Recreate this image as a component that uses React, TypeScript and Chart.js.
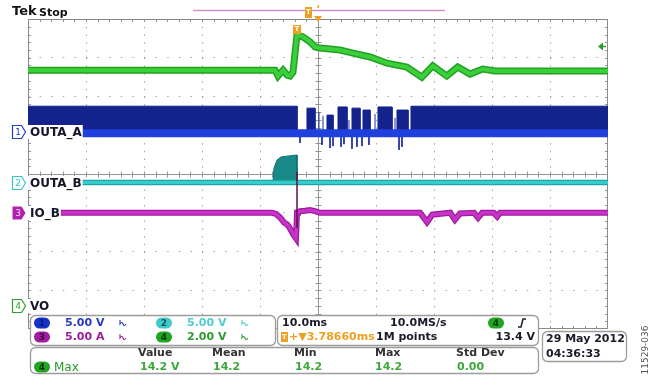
import React, { useEffect, useRef } from 'react';
import { Chart, registerables } from 'chart.js';

Chart.register(...registerables);

// Horizontal axis: time in ms (10.0 ms/div). Vertical axis: screen divisions.
const timeTicks = [-50, -40, -30, -20, -10, 0, 10, 20, 30, 40, 50];
const divTicks = [-4, -3, -2, -1, 0, 1, 2, 3, 4];

// CH4 VO (2.00 V/div)
const voTime = [-50, -7.41, -6.9, -6.03, -5.3, -4.83, -4.31, -3.62, -2.59, -1.38, -0.52, 0.34, 3.79, 6.03, 8.97, 11.9, 15.3, 17.9, 19.8, 22.2, 24.1, 26.2, 28.4, 30.5, 50];
const voDiv = [2.68, 2.68, 2.53, 2.68, 2.55, 2.53, 2.63, 3.59, 3.54, 3.41, 3.28, 3.25, 3.2, 3.12, 3.02, 2.86, 2.76, 2.5, 2.79, 2.53, 2.76, 2.58, 2.71, 2.66, 2.66];

// CH3 IO_B (5.00 A/div)
const ioTime = [-50, -7.93, -7.24, -6.55, -5.86, -5.34, -5.0, -4.66, -4.31, -3.97, -3.79, -3.62, -3.45, -3.1, -2.24, -1.38, -0.52, 0.34, 17.6, 18.8, 19.7, 22.8, 23.6, 24.5, 26.9, 27.6, 28.3, 30.3, 30.9, 31.4, 50];
const ioDiv = [-1.0, -1.0, -1.03, -1.12, -1.25, -1.3, -1.36, -1.45, -1.55, -1.62, -1.66, -1.0, -0.98, -0.96, -0.95, -0.93, -0.96, -1.0, -1.0, -1.24, -1.05, -1.0, -1.18, -1.02, -1.0, -1.13, -1.0, -1.0, -1.1, -1.0, -1.0];
const ioSpikeTime = [-3.62, -3.62];
const ioSpikeDiv = [-1.4, 0.05];

// CH2 OUTA_B (5.00 V/div)
const outBTime = [-50, 50];
const outBDiv = [-0.22, -0.22];
const outBPulseTime = [-7.76, -7.59, -7.07, -6.38, -5.34, -3.62, -3.62];
const outBPulseDiv = [-0.22, 0.15, 0.36, 0.44, 0.46, 0.49, -0.22];

// CH1 OUTA_A (5.00 V/div) switching bursts
const outALow = 1.05;
const outABase = 1.1;
const burstStart = [-50, -1.9, 1.55, 3.45, 5.86, 7.76, 10.34, 13.62, 16.03];
const burstEnd = [-3.62, -0.52, 2.59, 5.0, 7.24, 8.97, 12.76, 15.52, 50];
const burstTop = [1.75, 1.7, 1.52, 1.73, 1.7, 1.65, 1.73, 1.65, 1.75];
const outASpikeTime = [-3.1, 0.17, 0.69, 0.86, 2.07, 2.59, 3.97, 4.48, 5.34, 5.86, 6.72, 7.59, 8.79, 9.83, 13.28, 13.97, 14.48];
const outASpikeDiv = [0.8, 1.6, 0.75, 1.5, 0.67, 0.72, 0.7, 0.77, 1.39, 0.65, 0.7, 0.72, 0.75, 1.55, 1.45, 0.62, 0.7];

// Channel markers & readouts
const channelNums = ['1', '2', '3', '4'];
const channelNames = ['OUTA_A', 'OUTA_B', 'IO_B', 'VO'];
const channelLevels = [1.08, -0.22, -1.0, -3.41];
const channelColors = ['#2341c8', '#33c6c6', '#b021b0', '#2e9e2e'];
const channelScales = ['5.00 V', '5.00 V', '5.00 A', '2.00 V'];
const triggerTime = -3.62;
const triggerLevelV = 13.4;
const measHeaders = ['Value', 'Mean', 'Min', 'Max', 'Std Dev'];
const measValues = ['14.2 V', '14.2', '14.2', '14.2', '0.00'];

const FONT = '"DejaVu Sans", sans-serif';

const pts = (xs: number[], ys: (number | null)[]) => xs.map((v, i) => ({ x: v, y: ys[i] }));

function roundRect(ctx: CanvasRenderingContext2D, x: number, y: number, w: number, h: number, r: number) {
  ctx.beginPath();
  ctx.moveTo(x + r, y);
  ctx.lineTo(x + w - r, y);
  ctx.arcTo(x + w, y, x + w, y + r, r);
  ctx.lineTo(x + w, y + h - r);
  ctx.arcTo(x + w, y + h, x + w - r, y + h, r);
  ctx.lineTo(x + r, y + h);
  ctx.arcTo(x, y + h, x, y + h - r, r);
  ctx.lineTo(x, y + r);
  ctx.arcTo(x, y, x + r, y, r);
  ctx.closePath();
}

const scopePlugin = {
  id: 'scope',
  beforeDatasetsDraw(chart: any) {
    const { ctx, chartArea: a, scales } = chart;
    const x = scales.x, y = scales.y;
    ctx.save();
    ctx.strokeStyle = '#939393';
    ctx.lineWidth = 1;
    const cx = Math.round(x.getPixelForValue(0)) + 0.5;
    const cy = Math.round(y.getPixelForValue(0)) + 0.5;
    ctx.beginPath();
    ctx.moveTo(cx, a.top); ctx.lineTo(cx, a.bottom);
    ctx.moveTo(a.left, cy); ctx.lineTo(a.right, cy);
    for (let t = -48; t <= 48; t += 2) {
      const px = Math.round(x.getPixelForValue(t)) + 0.5;
      ctx.moveTo(px, cy - 3); ctx.lineTo(px, cy + 3);
      ctx.moveTo(px, a.top); ctx.lineTo(px, a.top + 3);
      ctx.moveTo(px, a.bottom); ctx.lineTo(px, a.bottom - 3);
    }
    for (let k = -19; k <= 19; k++) {
      const py = Math.round(y.getPixelForValue(k * 0.2)) + 0.5;
      ctx.moveTo(cx - 3, py); ctx.lineTo(cx + 3, py);
      ctx.moveTo(a.left, py); ctx.lineTo(a.left + 3, py);
      ctx.moveTo(a.right, py); ctx.lineTo(a.right - 3, py);
    }
    ctx.stroke();
    ctx.strokeStyle = '#8a8a8a';
    ctx.strokeRect(a.left + 0.5, a.top + 0.5, a.right - a.left - 1, a.bottom - a.top - 1);
    ctx.restore();
  },
  afterDatasetsDraw(chart: any) {
    const { ctx, chartArea: a, scales } = chart;
    const x = scales.x, y = scales.y;
    ctx.save();
    ctx.textBaseline = 'middle';
    channelLevels.forEach((lv, i) => {
      const py = Math.round(y.getPixelForValue(lv));
      const col = channelColors[i];
      ctx.font = `bold 12px ${FONT}`;
      const w = ctx.measureText(channelNames[i]).width;
      ctx.fillStyle = '#fff';
      ctx.fillRect(a.left, py - 7, w + 3, 14);
      ctx.fillStyle = '#15152a';
      ctx.textAlign = 'left';
      ctx.fillText(channelNames[i], a.left + 2, py + 1);
      ctx.beginPath();
      ctx.moveTo(12.5, py - 6.5);
      ctx.lineTo(21.5, py - 6.5);
      ctx.lineTo(25.5, py);
      ctx.lineTo(21.5, py + 6.5);
      ctx.lineTo(12.5, py + 6.5);
      ctx.closePath();
      ctx.lineWidth = 1.2;
      if (i === 2) {
        ctx.fillStyle = col; ctx.fill();
        ctx.fillStyle = '#f6d0f6';
      } else {
        ctx.fillStyle = '#fff'; ctx.fill();
        ctx.strokeStyle = col; ctx.stroke();
        ctx.fillStyle = col;
      }
      ctx.font = `9px ${FONT}`;
      ctx.textAlign = 'center';
      ctx.fillText(channelNums[i], 18, py + 0.5);
    });
    // trigger marker inside the graticule
    const tx = x.getPixelForValue(triggerTime);
    ctx.fillStyle = '#f0a020';
    ctx.fillRect(tx - 4, 25, 8, 9);
    ctx.fillStyle = '#fff';
    ctx.font = `bold 7px ${FONT}`;
    ctx.textAlign = 'center';
    ctx.fillText('T', tx, 29.5);
    // trigger level arrow on right
    const ly = y.getPixelForValue(channelLevels[3] + triggerLevelV / 2);
    ctx.fillStyle = '#2e9a2e';
    ctx.beginPath();
    ctx.moveTo(a.right - 10, ly);
    ctx.lineTo(a.right - 5, ly - 4);
    ctx.lineTo(a.right - 5, ly + 4);
    ctx.closePath();
    ctx.fill();
    ctx.strokeStyle = '#2e9a2e';
    ctx.lineWidth = 1.5;
    ctx.beginPath(); ctx.moveTo(a.right - 6, ly); ctx.lineTo(a.right - 2, ly); ctx.stroke();
    ctx.restore();
  },
  afterDraw(chart: any) {
    const { ctx } = chart;
    ctx.save();
    ctx.textBaseline = 'middle';
    ctx.textAlign = 'left';
    // Header
    ctx.fillStyle = '#111';
    ctx.font = `bold 13px ${FONT}`;
    ctx.fillText('Tek', 12, 12);
    ctx.font = `bold 11px ${FONT}`;
    ctx.fillText('Stop', 39, 13);
    // record bar
    ctx.strokeStyle = '#d690c6';
    ctx.lineWidth = 1.3;
    ctx.beginPath(); ctx.moveTo(193, 10.5); ctx.lineTo(445, 10.5); ctx.stroke();
    ctx.fillStyle = '#f0a020';
    ctx.fillRect(305, 7, 7, 11);
    ctx.fillStyle = '#fff';
    ctx.font = `bold 7px ${FONT}`;
    ctx.textAlign = 'center';
    ctx.fillText('T', 308.5, 12.5);
    ctx.fillStyle = '#f0a020';
    ctx.beginPath(); ctx.moveTo(314, 16); ctx.lineTo(322, 16); ctx.lineTo(318, 22); ctx.closePath(); ctx.fill();
    ctx.fillRect(317.5, 5, 1.5, 3);
    ctx.textAlign = 'left';

    const box = (bx: number, by: number, w: number, h: number) => {
      roundRect(ctx, bx + 0.5, by + 0.5, w, h, 5);
      ctx.fillStyle = '#fff'; ctx.fill();
      ctx.strokeStyle = '#9c9c9c'; ctx.lineWidth = 1.3; ctx.stroke();
    };
    const pill = (px: number, yc: number, fill: string, txt: string, tc: string) => {
      roundRect(ctx, px, yc - 5.5, 16, 11, 5.5);
      ctx.fillStyle = fill; ctx.fill();
      ctx.fillStyle = tc;
      ctx.font = `bold 9px ${FONT}`;
      ctx.textAlign = 'center';
      ctx.fillText(txt, px + 8, yc + 0.5);
      ctx.textAlign = 'left';
    };
    const bwIcon = (ix: number, yc: number, col: string) => {
      ctx.strokeStyle = col; ctx.lineWidth = 1.1;
      ctx.beginPath();
      ctx.moveTo(ix, yc - 3); ctx.lineTo(ix, yc + 1);
      ctx.quadraticCurveTo(ix + 2, yc - 2, ix + 3, yc + 1);
      ctx.quadraticCurveTo(ix + 4, yc + 4, ix + 6, yc + 1);
      ctx.stroke();
    };
    box(30, 315, 245, 30);
    box(277, 315, 261, 30);
    box(30, 347, 508, 26);
    box(542, 331, 84, 30);

    const pillFill = ['#1533c9', '#40caca', '#a01da0', '#22a322'];
    const pillText = ['#0a1a70', '#0c5a5a', '#4a0a4a', '#0a3a0a'];
    const scaleCol = ['#2438c0', '#4ccccc', '#9b1c9b', '#2c9a2c'];
    const cols = [34, 156, 34, 156];
    const rows = [323, 323, 337, 337];
    [0, 1, 2, 3].forEach((i) => {
      pill(cols[i], rows[i], pillFill[i], channelNums[i], pillText[i]);
      ctx.font = `bold 11px ${FONT}`;
      ctx.fillStyle = scaleCol[i];
      ctx.fillText(channelScales[i], cols[i] + 31, rows[i] + 0.5);
      bwIcon(cols[i] + 86, rows[i], scaleCol[i]);
    });

    ctx.font = `bold 11px ${FONT}`;
    ctx.fillStyle = '#1a1a2a';
    ctx.fillText('10.0ms', 282, 323.5);
    ctx.fillText('10.0MS/s', 390, 323.5);
    ctx.fillText('1M points', 376, 337.5);
    ctx.textAlign = 'right';
    ctx.fillText(`${triggerLevelV.toFixed(1)} V`, 535, 337.5);
    ctx.textAlign = 'left';
    pill(488, 323, '#22a322', '4', '#0a3a0a');
    ctx.strokeStyle = '#1a1a2a'; ctx.lineWidth = 1.5;
    ctx.beginPath(); ctx.moveTo(518, 327); ctx.lineTo(521, 327); ctx.lineTo(523, 319); ctx.lineTo(526, 319); ctx.stroke();
    ctx.fillStyle = '#f0a020';
    ctx.fillRect(281, 332, 7, 10);
    ctx.fillStyle = '#fff';
    ctx.font = `bold 7px ${FONT}`;
    ctx.textAlign = 'center';
    ctx.fillText('T', 284.5, 337.5);
    ctx.textAlign = 'left';
    ctx.fillStyle = '#f0a020';
    ctx.font = `bold 11px ${FONT}`;
    ctx.fillText('+\u25BC3.78660ms', 289, 337.5);

    ctx.fillStyle = '#1a1a2a';
    ctx.fillText('29 May 2012', 546, 339.5);
    ctx.fillText('04:36:33', 546, 354);

    const hx = [138, 212, 294, 375, 456];
    const vx = [140, 213, 295, 375, 457];
    ctx.fillStyle = '#333';
    measHeaders.forEach((h, i) => ctx.fillText(h, hx[i], 353.5));
    pill(34, 367, '#22a322', '4', '#0a3a0a');
    ctx.font = `12px ${FONT}`;
    ctx.fillStyle = '#2a9a2a';
    ctx.fillText('Max', 54, 367.5);
    ctx.font = `bold 11px ${FONT}`;
    ctx.fillStyle = '#3aa83a';
    measValues.forEach((v, i) => ctx.fillText(v, vx[i], 367.5));

    ctx.translate(646, 350);
    ctx.rotate(-Math.PI / 2);
    ctx.textAlign = 'center';
    ctx.font = `9px ${FONT}`;
    ctx.fillStyle = '#555';
    ctx.fillText('11529-036', 0, 0);
    ctx.restore();
  },
};

export default function App() {
  const ref = useRef<HTMLCanvasElement | null>(null);
  useEffect(() => {
    if (!ref.current) return;
    const burstPoints: { x: number; y: number }[] = [];
    burstStart.forEach((s, i) => {
      burstPoints.push({ x: s, y: outABase }, { x: s, y: burstTop[i] }, { x: burstEnd[i], y: burstTop[i] }, { x: burstEnd[i], y: outABase });
    });
    const spikePoints: { x: number; y: number | null }[] = [];
    outASpikeTime.forEach((t, i) => {
      spikePoints.push({ x: t, y: outALow }, { x: t, y: outASpikeDiv[i] }, { x: t, y: null });
    });
    const line = (data: any[], color: string, width: number, order: number, extra: any = {}) => ({
      data, borderColor: color, borderWidth: width, pointRadius: 0, fill: false, tension: 0, order, ...extra,
    });
    const chart = new Chart(ref.current, {
      type: 'line',
      data: {
        datasets: [
          line(pts(ioSpikeTime, ioSpikeDiv), '#5a1048', 1.5, 0),
          line(pts(ioTime, ioDiv), '#c832c8', 3.5, 1),
          line(pts(ioTime, ioDiv), '#9c1c9c', 6, 2),
          line(pts(outBTime, outBDiv), '#36cccc', 3, 3),
          line(pts(outBTime, outBDiv), '#1fa3a3', 5.5, 4),
          line(pts(outBPulseTime, outBPulseDiv), '#0f6f6f', 1, 5, { fill: { value: outBDiv[0] }, backgroundColor: '#178989' }),
          line(pts(voTime, voDiv), '#3ad03a', 4, 6),
          line(pts(voTime, voDiv), '#23a023', 7, 7),
          line([{ x: -50, y: outALow }, { x: 50, y: outALow }], '#1f40dc', 8, 8),
          line(spikePoints, '#1d2fa0', 1, 9),
          line(burstPoints, '#14228e', 1, 10, { fill: { value: outABase }, backgroundColor: '#14228e' }),
        ] as any,
      },
      options: {
        responsive: false,
        maintainAspectRatio: false,
        animation: false,
        events: [],
        layout: { padding: { left: 28, top: 19, right: 50, bottom: 48 } },
        plugins: { legend: { display: false }, tooltip: { enabled: false } },
        scales: {
          x: {
            type: 'linear',
            min: timeTicks[0],
            max: timeTicks[timeTicks.length - 1],
            afterBuildTicks: (s: any) => { s.ticks = timeTicks.map((v) => ({ value: v })); },
            ticks: { display: false },
            grid: {
              drawTicks: false,
              lineWidth: 1,
              color: (c: any) => (c.tick && (c.tick.value === 0 || Math.abs(c.tick.value) === 50) ? 'rgba(0,0,0,0)' : '#a6a6a6'),
            },
            border: { display: false, dash: [1.5, 6.25] },
          },
          y: {
            type: 'linear',
            min: divTicks[0],
            max: divTicks[divTicks.length - 1],
            afterBuildTicks: (s: any) => { s.ticks = divTicks.map((v) => ({ value: v })); },
            ticks: { display: false },
            grid: {
              drawTicks: false,
              lineWidth: 1,
              color: (c: any) => (c.tick && (c.tick.value === 0 || Math.abs(c.tick.value) === 4) ? 'rgba(0,0,0,0)' : '#a6a6a6'),
            },
            border: { display: false, dash: [1.5, 10.1] },
          },
        },
      } as any,
      plugins: [scopePlugin],
    });
    return () => chart.destroy();
  }, []);
  return (
    <div style={{ position: 'absolute', left: 0, top: 0, width: 658, height: 377, background: '#fff' }}>
      <canvas ref={ref} width={658} height={377} style={{ display: 'block' }} />
    </div>
  );
}
